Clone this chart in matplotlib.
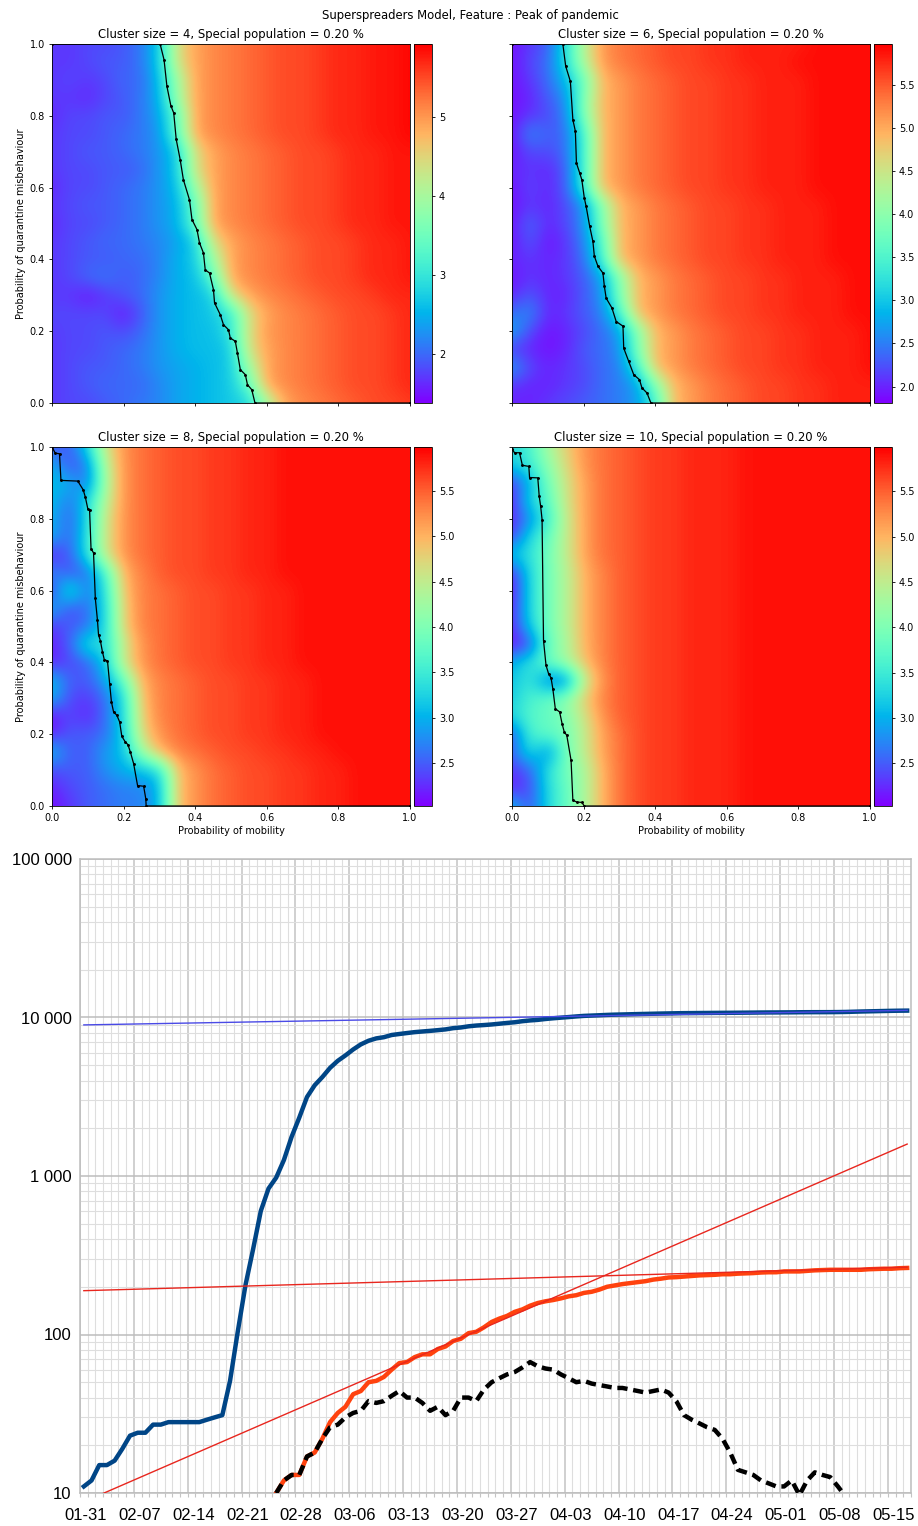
import numpy as np
import matplotlib
matplotlib.use("Agg")
import matplotlib.pyplot as plt
from matplotlib.transforms import ScaledTranslation
from matplotlib.ticker import FixedLocator, NullFormatter

# Peak of pandemic on a 21x21 grid: columns = mobility 0.00 .. 1.00, rows = misbehaviour 1.00 (top) .. 0.00
peak_c4 = [
    "1.7 1.7 1.8 1.8 1.9 2.1 2.7 4.4 4.9 5.1 5.2 5.3 5.4 5.5 5.5 5.6 5.7 5.7 5.8 5.8 5.9",
    "1.7 1.7 1.8 1.9 1.9 2.1 2.7 4.4 4.9 5.1 5.2 5.3 5.4 5.5 5.5 5.6 5.7 5.7 5.8 5.8 5.9",
    "1.7 1.8 1.7 1.8 2.0 2.0 2.6 3.9 4.9 5.1 5.2 5.3 5.4 5.5 5.5 5.6 5.7 5.7 5.8 5.8 5.9",
    "1.7 1.7 1.6 1.8 1.9 2.1 2.5 3.9 4.9 5.1 5.2 5.3 5.4 5.5 5.5 5.6 5.7 5.7 5.8 5.8 5.9",
    "1.6 1.8 1.8 1.9 1.9 2.1 2.4 3.4 4.9 5.1 5.2 5.3 5.4 5.5 5.5 5.6 5.7 5.7 5.8 5.8 5.9",
    "1.7 1.8 1.8 1.9 2.0 2.1 2.3 3.4 4.9 5.1 5.2 5.3 5.4 5.5 5.5 5.6 5.7 5.7 5.8 5.8 5.9",
    "1.7 1.8 1.9 1.9 2.0 2.1 2.3 2.7 4.4 4.9 5.1 5.2 5.3 5.4 5.5 5.5 5.6 5.7 5.7 5.8 5.8",
    "1.7 1.8 1.8 1.9 1.9 2.0 2.3 2.7 4.4 4.9 5.1 5.2 5.3 5.4 5.5 5.5 5.6 5.7 5.7 5.8 5.8",
    "1.6 1.8 1.8 1.9 2.0 2.1 2.3 2.6 3.9 4.9 5.1 5.2 5.3 5.4 5.5 5.5 5.6 5.7 5.7 5.8 5.8",
    "1.7 1.8 1.9 1.9 2.0 2.1 2.3 2.5 3.4 4.9 5.1 5.2 5.3 5.4 5.5 5.5 5.6 5.7 5.7 5.8 5.8",
    "1.6 1.8 1.8 1.9 2.0 2.1 2.3 2.5 3.4 4.9 5.1 5.2 5.3 5.4 5.5 5.5 5.6 5.7 5.7 5.8 5.8",
    "1.7 1.8 1.9 2.0 2.0 2.1 2.2 2.4 2.7 4.4 4.9 5.1 5.2 5.3 5.4 5.5 5.5 5.6 5.7 5.7 5.8",
    "1.7 1.8 1.9 1.9 2.0 2.0 2.2 2.5 2.7 3.9 4.9 5.1 5.2 5.3 5.4 5.5 5.5 5.6 5.7 5.7 5.8",
    "1.7 1.8 2.0 2.1 1.9 2.0 2.2 2.5 2.6 3.4 4.9 5.1 5.2 5.3 5.4 5.5 5.5 5.6 5.7 5.7 5.8",
    "1.7 1.7 1.5 1.7 1.9 2.0 2.3 2.5 2.6 2.7 4.4 4.9 5.1 5.2 5.3 5.4 5.5 5.5 5.6 5.7 5.7",
    "1.8 1.8 1.8 1.8 1.5 1.9 2.3 2.5 2.6 2.7 3.0 4.4 4.9 5.1 5.2 5.3 5.4 5.5 5.5 5.6 5.7",
    "1.7 1.8 1.8 1.9 1.8 2.0 2.3 2.5 2.6 2.6 3.0 4.4 5.0 5.1 5.2 5.3 5.4 5.5 5.5 5.6 5.7",
    "1.7 1.8 1.8 1.9 2.0 2.1 2.3 2.5 2.6 2.6 2.7 4.4 4.9 5.1 5.2 5.3 5.4 5.5 5.5 5.6 5.7",
    "1.7 1.8 1.9 1.9 2.0 2.1 2.3 2.4 2.5 2.6 2.7 3.9 4.9 5.1 5.2 5.3 5.4 5.5 5.5 5.6 5.7",
    "1.7 1.8 1.9 2.0 2.0 2.0 2.2 2.4 2.5 2.6 2.7 3.4 4.9 5.1 5.2 5.3 5.4 5.5 5.5 5.6 5.7",
    "1.7 1.8 1.8 1.9 2.0 2.1 2.2 2.4 2.5 2.6 2.7 2.8 3.9 4.9 5.1 5.2 5.3 5.4 5.5 5.5 5.6",
]
peak_c6 = [
    "1.9 2.1 2.3 3.2 4.3 5.1 5.3 5.4 5.5 5.6 5.6 5.7 5.7 5.8 5.8 5.8 5.8 5.9 5.9 5.9 5.9",
    "1.9 2.2 2.4 3.2 4.3 5.1 5.3 5.4 5.5 5.6 5.6 5.7 5.7 5.8 5.8 5.8 5.9 5.9 5.9 5.9 5.9",
    "1.9 2.1 2.4 2.9 3.7 4.9 5.1 5.3 5.4 5.5 5.6 5.6 5.7 5.7 5.8 5.8 5.8 5.9 5.9 5.9 5.9",
    "1.9 2.0 2.3 2.6 3.9 4.9 5.1 5.3 5.4 5.5 5.6 5.6 5.7 5.7 5.8 5.8 5.8 5.9 5.9 5.9 5.9",
    "1.9 2.1 2.2 2.5 3.9 4.9 5.1 5.3 5.4 5.5 5.6 5.6 5.7 5.7 5.8 5.8 5.8 5.9 5.9 5.9 5.9",
    "1.9 2.6 2.3 2.4 3.4 4.9 5.1 5.3 5.4 5.5 5.6 5.6 5.7 5.7 5.8 5.8 5.8 5.9 5.9 5.9 5.9",
    "1.9 2.2 2.2 2.4 3.4 4.9 5.1 5.3 5.4 5.5 5.6 5.6 5.7 5.7 5.8 5.8 5.8 5.9 5.9 5.9 5.9",
    "2.0 2.1 2.0 2.3 3.4 4.9 5.1 5.3 5.4 5.5 5.6 5.6 5.7 5.7 5.8 5.8 5.8 5.9 5.9 5.9 5.9",
    "1.9 2.2 2.0 2.3 3.4 4.9 5.1 5.3 5.4 5.5 5.6 5.6 5.7 5.7 5.8 5.8 5.8 5.9 5.9 5.9 5.9",
    "1.9 2.1 2.0 2.2 2.6 3.9 4.9 5.1 5.3 5.4 5.5 5.6 5.6 5.7 5.7 5.8 5.8 5.8 5.9 5.9 5.9",
    "1.9 2.4 2.0 2.2 2.6 3.9 4.9 5.1 5.3 5.4 5.5 5.6 5.6 5.7 5.7 5.8 5.8 5.8 5.9 5.9 5.9",
    "1.9 2.3 1.9 2.1 2.5 3.5 4.9 5.1 5.3 5.4 5.5 5.6 5.6 5.7 5.7 5.8 5.8 5.8 5.9 5.9 5.9",
    "2.0 2.1 2.0 2.1 2.4 3.4 4.9 5.1 5.3 5.4 5.5 5.6 5.6 5.7 5.7 5.8 5.8 5.8 5.9 5.9 5.9",
    "1.9 2.1 2.0 2.1 2.3 2.7 3.9 4.9 5.1 5.3 5.4 5.5 5.6 5.6 5.7 5.7 5.8 5.8 5.8 5.9 5.9",
    "2.0 2.3 2.0 2.0 2.3 2.6 3.9 4.9 5.1 5.3 5.4 5.5 5.6 5.6 5.7 5.7 5.8 5.8 5.8 5.9 5.9",
    "2.4 2.6 2.0 2.1 2.3 2.5 3.4 4.9 5.1 5.3 5.4 5.5 5.6 5.6 5.7 5.7 5.8 5.8 5.8 5.9 5.9",
    "2.8 2.2 1.9 2.0 2.2 2.4 2.7 3.9 4.9 5.1 5.3 5.4 5.5 5.6 5.6 5.7 5.7 5.8 5.8 5.8 5.9",
    "2.1 2.0 1.9 2.0 2.3 2.4 2.6 3.9 4.9 5.1 5.3 5.4 5.5 5.6 5.6 5.7 5.7 5.8 5.8 5.8 5.9",
    "2.7 2.2 2.0 2.1 2.2 2.4 2.5 3.4 4.9 5.1 5.3 5.4 5.5 5.6 5.6 5.7 5.7 5.8 5.8 5.8 5.9",
    "2.1 2.0 2.0 2.1 2.2 2.4 2.5 2.7 3.9 4.9 5.1 5.3 5.4 5.5 5.6 5.6 5.7 5.7 5.8 5.8 5.8",
    "2.0 2.0 2.1 2.2 2.3 2.4 2.5 2.7 3.4 4.9 5.1 5.3 5.4 5.5 5.6 5.6 5.7 5.7 5.8 5.8 5.8",
]
peak_c8 = [
    "2.5 2.5 3.3 4.6 5.2 5.4 5.5 5.6 5.6 5.7 5.7 5.8 5.8 5.9 5.9 5.9 5.9 5.9 5.9 5.9 5.9",
    "3.0 2.4 2.7 4.4 5.2 5.4 5.5 5.6 5.6 5.7 5.7 5.8 5.8 5.9 5.9 5.9 5.9 5.9 5.9 5.9 5.9",
    "3.1 3.0 2.6 4.3 5.2 5.4 5.5 5.6 5.6 5.7 5.7 5.8 5.8 5.9 5.9 5.9 5.9 5.9 5.9 5.9 5.9",
    "3.1 2.6 3.3 4.4 5.2 5.4 5.5 5.6 5.6 5.7 5.7 5.8 5.8 5.9 5.9 5.9 5.9 5.9 5.9 5.9 5.9",
    "3.0 2.5 3.3 4.6 5.2 5.4 5.5 5.6 5.6 5.7 5.7 5.8 5.8 5.9 5.9 5.9 5.9 5.9 5.9 5.9 5.9",
    "3.0 2.5 3.4 4.6 5.2 5.4 5.5 5.6 5.6 5.7 5.7 5.8 5.8 5.9 5.9 5.9 5.9 5.9 5.9 5.9 5.9",
    "2.2 2.5 3.4 4.6 5.2 5.4 5.5 5.6 5.6 5.7 5.7 5.8 5.8 5.9 5.9 5.9 5.9 5.9 5.9 5.9 5.9",
    "2.8 2.4 2.6 3.6 5.0 5.3 5.5 5.6 5.6 5.7 5.7 5.8 5.8 5.9 5.9 5.9 5.9 5.9 5.9 5.9 5.9",
    "2.3 3.6 2.6 3.4 4.9 5.3 5.4 5.5 5.6 5.6 5.7 5.7 5.8 5.8 5.9 5.9 5.9 5.9 5.9 5.9 5.9",
    "3.0 2.4 2.6 3.3 4.8 5.3 5.4 5.5 5.6 5.6 5.7 5.7 5.8 5.8 5.9 5.9 5.9 5.9 5.9 5.9 5.9",
    "2.3 2.5 2.6 3.3 4.8 5.3 5.4 5.5 5.6 5.6 5.7 5.7 5.8 5.8 5.9 5.9 5.9 5.9 5.9 5.9 5.9",
    "2.2 2.5 3.5 3.3 4.5 5.2 5.4 5.5 5.6 5.6 5.7 5.7 5.8 5.8 5.9 5.9 5.9 5.9 5.9 5.9 5.9",
    "2.2 2.4 2.5 3.2 4.6 5.2 5.4 5.5 5.6 5.6 5.7 5.7 5.8 5.8 5.9 5.9 5.9 5.9 5.9 5.9 5.9",
    "3.1 2.5 2.5 2.9 3.8 5.0 5.3 5.4 5.5 5.6 5.6 5.7 5.7 5.8 5.8 5.9 5.9 5.9 5.9 5.9 5.9",
    "3.0 2.4 2.3 2.6 3.3 4.9 5.3 5.4 5.5 5.6 5.6 5.7 5.7 5.8 5.8 5.9 5.9 5.9 5.9 5.9 5.9",
    "2.1 2.4 2.2 2.6 3.3 4.8 5.3 5.4 5.5 5.6 5.6 5.7 5.7 5.8 5.8 5.9 5.9 5.9 5.9 5.9 5.9",
    "2.2 2.5 2.5 2.6 3.2 4.7 5.2 5.4 5.5 5.6 5.6 5.7 5.7 5.8 5.8 5.9 5.9 5.9 5.9 5.9 5.9",
    "3.1 2.5 2.5 2.9 3.1 4.2 5.0 5.3 5.4 5.5 5.6 5.6 5.7 5.7 5.8 5.8 5.9 5.9 5.9 5.9 5.9",
    "2.4 2.5 2.5 2.8 3.0 3.1 3.3 4.9 5.2 5.4 5.5 5.6 5.6 5.7 5.7 5.8 5.8 5.9 5.9 5.9 5.9",
    "2.2 2.4 2.5 2.6 2.7 2.7 3.0 4.9 5.2 5.4 5.5 5.6 5.6 5.7 5.7 5.8 5.8 5.9 5.9 5.9 5.9",
    "2.1 2.3 2.5 2.6 2.7 2.7 3.0 4.9 5.2 5.4 5.5 5.6 5.6 5.7 5.7 5.8 5.8 5.9 5.9 5.9 5.9",
]
peak_c10 = [
    "3.3 3.6 4.3 4.8 5.2 5.4 5.5 5.6 5.7 5.7 5.8 5.8 5.8 5.9 5.9 5.9 5.9 5.9 5.9 5.9 5.9",
    "3.2 3.5 4.1 4.7 5.2 5.4 5.5 5.6 5.7 5.7 5.8 5.8 5.8 5.9 5.9 5.9 5.9 5.9 5.9 5.9 5.9",
    "2.3 3.0 3.9 4.6 5.1 5.4 5.5 5.6 5.7 5.7 5.8 5.8 5.8 5.9 5.9 5.9 5.9 5.9 5.9 5.9 5.9",
    "2.2 3.3 3.7 4.6 5.1 5.4 5.5 5.6 5.7 5.7 5.8 5.8 5.8 5.9 5.9 5.9 5.9 5.9 5.9 5.9 5.9",
    "2.2 2.8 3.5 4.5 5.1 5.4 5.5 5.6 5.7 5.7 5.8 5.8 5.8 5.9 5.9 5.9 5.9 5.9 5.9 5.9 5.9",
    "2.3 3.3 3.8 4.5 5.1 5.4 5.5 5.6 5.7 5.7 5.8 5.8 5.8 5.9 5.9 5.9 5.9 5.9 5.9 5.9 5.9",
    "3.2 3.4 3.9 4.5 5.1 5.4 5.5 5.6 5.7 5.7 5.8 5.8 5.8 5.9 5.9 5.9 5.9 5.9 5.9 5.9 5.9",
    "2.2 3.3 3.9 4.4 5.0 5.3 5.5 5.6 5.7 5.7 5.8 5.8 5.8 5.9 5.9 5.9 5.9 5.9 5.9 5.9 5.9",
    "2.1 3.3 3.9 4.4 5.0 5.3 5.5 5.6 5.7 5.7 5.8 5.8 5.8 5.9 5.9 5.9 5.9 5.9 5.9 5.9 5.9",
    "2.2 3.3 3.9 4.4 5.0 5.3 5.5 5.6 5.7 5.7 5.8 5.8 5.8 5.9 5.9 5.9 5.9 5.9 5.9 5.9 5.9",
    "2.2 3.2 3.9 4.4 5.0 5.3 5.5 5.6 5.7 5.7 5.8 5.8 5.8 5.9 5.9 5.9 5.9 5.9 5.9 5.9 5.9",
    "2.1 2.4 3.8 4.3 5.0 5.3 5.5 5.6 5.7 5.7 5.8 5.8 5.8 5.9 5.9 5.9 5.9 5.9 5.9 5.9 5.9",
    "3.0 3.4 3.9 4.3 4.9 5.3 5.5 5.6 5.7 5.7 5.8 5.8 5.8 5.9 5.9 5.9 5.9 5.9 5.9 5.9 5.9",
    "3.1 3.5 2.6 2.6 4.4 5.2 5.5 5.6 5.7 5.7 5.8 5.8 5.8 5.9 5.9 5.9 5.9 5.9 5.9 5.9 5.9",
    "3.2 3.6 3.8 4.1 4.8 5.3 5.5 5.6 5.7 5.7 5.8 5.8 5.8 5.9 5.9 5.9 5.9 5.9 5.9 5.9 5.9",
    "3.3 3.7 3.8 4.0 4.6 5.2 5.5 5.6 5.7 5.7 5.8 5.8 5.8 5.9 5.9 5.9 5.9 5.9 5.9 5.9 5.9",
    "2.4 3.6 3.8 3.9 4.5 5.1 5.4 5.6 5.7 5.7 5.8 5.8 5.8 5.9 5.9 5.9 5.9 5.9 5.9 5.9 5.9",
    "2.5 3.4 2.7 3.9 4.5 5.1 5.4 5.6 5.7 5.7 5.8 5.8 5.8 5.9 5.9 5.9 5.9 5.9 5.9 5.9 5.9",
    "2.3 2.5 3.4 3.9 4.3 5.0 5.4 5.6 5.7 5.7 5.8 5.8 5.8 5.9 5.9 5.9 5.9 5.9 5.9 5.9 5.9",
    "2.2 2.4 3.3 3.8 4.3 5.0 5.4 5.6 5.7 5.7 5.8 5.8 5.8 5.9 5.9 5.9 5.9 5.9 5.9 5.9 5.9",
    "3.1 2.4 3.3 3.8 4.3 5.0 5.4 5.6 5.7 5.7 5.8 5.8 5.8 5.9 5.9 5.9 5.9 5.9 5.9 5.9 5.9",
]

# threshold contour (mobility, misbehaviour) for each cluster size
edge_x4 = [0.0, 0.302, 0.313, 0.321, 0.332, 0.340, 0.347, 0.358, 0.367, 0.384, 0.391, 0.405, 0.412, 0.423, 0.428,
           0.440, 0.451, 0.454, 0.470, 0.479, 0.493, 0.498, 0.512, 0.518, 0.526, 0.540, 0.546, 0.558, 0.567, 1.0]
edge_y4 = [1.0, 1.0, 0.956, 0.882, 0.828, 0.808, 0.734, 0.678, 0.622, 0.566, 0.511, 0.483, 0.446, 0.418, 0.371,
           0.362, 0.316, 0.279, 0.246, 0.218, 0.204, 0.181, 0.172, 0.139, 0.093, 0.079, 0.051, 0.037, 0.0, 0.0]
edge_x6 = [0.0, 0.142, 0.150, 0.163, 0.170, 0.177, 0.180, 0.189, 0.195, 0.202, 0.207, 0.217, 0.226, 0.230, 0.240,
           0.254, 0.258, 0.263, 0.279, 0.291, 0.310, 0.312, 0.326, 0.340, 0.356, 0.363, 0.377, 0.388, 1.0]
edge_y6 = [1.0, 1.0, 0.938, 0.896, 0.789, 0.757, 0.668, 0.641, 0.622, 0.571, 0.548, 0.492, 0.450, 0.409, 0.381,
           0.362, 0.325, 0.292, 0.265, 0.227, 0.214, 0.153, 0.116, 0.079, 0.065, 0.042, 0.028, 0.0, 0.0]
edge_x8 = [0.0, 0.009, 0.021, 0.025, 0.072, 0.087, 0.093, 0.100, 0.105, 0.109, 0.116, 0.121, 0.127, 0.130, 0.135,
           0.141, 0.146, 0.155, 0.161, 0.166, 0.172, 0.181, 0.189, 0.195, 0.205, 0.212, 0.219, 0.228, 0.239, 0.256,
           0.262, 0.263, 1.0]
edge_y8 = [1.0, 0.983, 0.981, 0.907, 0.905, 0.881, 0.861, 0.828, 0.824, 0.717, 0.705, 0.578, 0.517, 0.476, 0.461,
           0.429, 0.408, 0.404, 0.341, 0.290, 0.262, 0.253, 0.234, 0.194, 0.178, 0.171, 0.150, 0.118, 0.057, 0.055,
           0.020, 0.0, 0.0]
edge_x10 = [0.0, 0.007, 0.021, 0.029, 0.047, 0.049, 0.072, 0.076, 0.080, 0.084, 0.088, 0.095, 0.102, 0.109, 0.114,
            0.121, 0.133, 0.140, 0.146, 0.153, 0.165, 0.170, 0.181, 0.195, 0.202, 1.0]
edge_y10 = [0.995, 0.984, 0.984, 0.949, 0.946, 0.915, 0.914, 0.863, 0.835, 0.798, 0.461, 0.392, 0.369, 0.357, 0.327,
            0.271, 0.262, 0.229, 0.206, 0.197, 0.127, 0.016, 0.011, 0.010, 0.0, 0.0]

cluster_sizes = [4, 6, 8, 10]
color_ranges = [(1.38, 5.93), (1.81, 5.97), (2.03, 5.98), (2.03, 5.99)]
cbar_ticks = [[2, 3, 4, 5],
              [2.0, 2.5, 3.0, 3.5, 4.0, 4.5, 5.0, 5.5],
              [2.5, 3.0, 3.5, 4.0, 4.5, 5.0, 5.5],
              [2.5, 3.0, 3.5, 4.0, 4.5, 5.0, 5.5]]

# daily series, day 0 = 01-31
cases = [11, 12, 15, 15, 16, 19, 23, 24, 24, 27,
         27, 28, 28, 28, 28, 28, 29, 30, 31, 51,
         104, 204, 346, 602, 833, 977, 1261, 1766, 2337, 3150,
         3736, 4212, 4812, 5328, 5766, 6284, 6767, 7134, 7382, 7513,
         7755, 7869, 7979, 8086, 8162, 8236, 8320, 8413, 8565, 8652,
         8799, 8897, 8961, 9037, 9137, 9241, 9332, 9478, 9583, 9661,
         9786, 9887, 9976, 10062, 10156, 10237, 10284, 10331, 10384, 10423,
         10450, 10480, 10512, 10537, 10564, 10591, 10613, 10635, 10653, 10661,
         10674, 10683, 10694, 10702, 10708, 10718, 10728, 10738, 10752, 10761,
         10765, 10774, 10780, 10793, 10801, 10804, 10806, 10810, 10822, 10840,
         10874, 10909, 10936, 10962, 10991, 11018, 11037, 11050]
deaths_start = 25
deaths = [10, 12, 13, 13, 17, 18, 22, 28, 32, 35,
          42, 44, 50, 51, 54, 60, 66, 67, 72, 75,
          75, 81, 84, 91, 94, 102, 104, 111, 120, 126,
          131, 139, 144, 152, 158, 162, 165, 169, 174, 177,
          183, 186, 192, 200, 204, 208, 211, 214, 217, 222,
          225, 229, 230, 232, 234, 236, 237, 238, 240, 240,
          242, 243, 244, 246, 247, 247, 250, 250, 250, 252,
          254, 255, 256, 256, 256, 256, 256, 258, 259, 260,
          260, 262, 263]
recent_start = 25
recent_deaths = [10, 12, 13, 13, 17, 18, 22, 26, 27, 30,
                 32, 33, 38, 37, 38, 41, 44, 40, 40, 37,
                 33, 35, 31, 33, 40, 40, 38, 45, 50, 53,
                 56, 58, 62, 67, 63, 61, 60, 56, 53, 50,
                 51, 49, 48, 47, 46, 46, 45, 44, 43, 44,
                 45, 43, 38, 31, 29, 27.5, 26, 25, 22, 18,
                 14, 13.5, 13, 12, 11.5, 11, 11, 12, 9.7, 12,
                 13.5, 13, 12.6, 11, 9.5]
# exponential trend lines (first and last day, value)
trend_days = [0, 107]
cases_trend = [8980, 11090]
deaths_trend = [189, 266]
early_deaths_trend = [8.8, 1590]

date_labels = ["01-31", "02-07", "02-14", "02-21", "02-28", "03-06", "03-13", "03-20",
               "03-27", "04-03", "04-10", "04-17", "04-24", "05-01", "05-08", "05-15"]
decade_labels = ["10", "100", "1 000", "10 000", "100 000"]

W, H = 918, 1526


def box(x0, y0, x1, y1):
    return [x0 / W, 1 - y1 / H, (x1 - x0) / W, (y1 - y0) / H]


fig = plt.figure(figsize=(W / 100, H / 100), dpi=100)

grids = [peak_c4, peak_c6, peak_c8, peak_c10]
edges = [(edge_x4, edge_y4), (edge_x6, edge_y6), (edge_x8, edge_y8), (edge_x10, edge_y10)]
panel_px = [(52, 44, 410, 403), (512, 44, 870, 403), (52, 447, 410, 806), (512, 447, 870, 806)]

for i in range(4):
    x0, y0, x1, y1 = panel_px[i]
    ax = fig.add_axes(box(x0, y0, x1, y1))
    cax = fig.add_axes(box(x1 + 4, y0, x1 + 22, y1))
    z = np.array([row.split() for row in grids[i]], dtype=float)
    vmin, vmax = color_ranges[i]
    im = ax.imshow(z, cmap="rainbow", vmin=vmin, vmax=vmax, interpolation="bicubic",
                   extent=(-0.025, 1.025, -0.025, 1.025), origin="upper", aspect="auto")
    ex, ey = edges[i]
    ax.plot(ex, ey, color="black", lw=0.9, marker=".", markersize=2.2, clip_on=True)
    ax.set_xlim(0, 1)
    ax.set_ylim(0, 1)
    ax.set_xticks([0, 0.2, 0.4, 0.6, 0.8, 1.0])
    ax.set_yticks([0, 0.2, 0.4, 0.6, 0.8, 1.0])
    ax.tick_params(labelsize=7, length=2.5, width=0.6, pad=2.5)
    for s in ax.spines.values():
        s.set_linewidth(0.6)
    ax.set_title(f"Cluster size = {cluster_sizes[i]}, Special population = 0.20 %", fontsize=8.4, pad=4)
    if i < 2:
        ax.set_xticklabels([])
    else:
        ax.set_xlabel("Probability of mobility", fontsize=7, labelpad=2)
    if i % 2 == 1:
        ax.set_yticklabels([])
    else:
        ax.set_ylabel("Probability of quarantine misbehaviour", fontsize=7, labelpad=3)

    cb = fig.colorbar(im, cax=cax)
    cb.set_ticks(cbar_ticks[i])
    cb.ax.tick_params(labelsize=7, length=2.5, width=0.6, pad=2.5)
    cb.outline.set_linewidth(0.6)

fig.text(470.5 / W, 1 - 15 / H, "Superspreaders Model, Feature : Peak of pandemic",
         ha="center", va="center", fontsize=8.4)

# ---- case / death curve on a log scale
ax = fig.add_axes(box(80, 859, 911, 1493))
ax.set_yscale("log")
ax.set_xlim(0, 108)
ax.set_ylim(10, 100000)

ax.yaxis.set_major_locator(FixedLocator([10, 100, 1000, 10000, 100000]))
ax.set_yticklabels(decade_labels)
ax.yaxis.set_minor_locator(FixedLocator([m * 10 ** e for e in range(1, 5) for m in range(2, 10)]))
ax.yaxis.set_minor_formatter(NullFormatter())
ax.xaxis.set_major_locator(FixedLocator(range(0, 108, 7)))
ax.set_xticklabels(date_labels)
ax.xaxis.set_minor_locator(FixedLocator(range(0, 109)))

ax.grid(True, which="minor", axis="both", color="#dedede", lw=0.8)
ax.grid(True, which="major", axis="x", color="#c8c8c8", lw=1.2)
ax.grid(True, which="major", axis="y", color="#bdbdbd", lw=1.1)
ax.set_axisbelow(True)
for s in ax.spines.values():
    s.set_color("#bdbdbd")
    s.set_linewidth(1.1)

ax.tick_params(axis="y", which="both", length=0, pad=6, labelsize=12)
ax.tick_params(axis="x", which="both", length=3, width=0.8, color="#c4c4c4", pad=8, labelsize=12)
offset = ScaledTranslation(0.058, 0, fig.dpi_scale_trans)
for lab in ax.get_xticklabels() + ax.get_yticklabels():
    lab.set_fontfamily("Liberation Sans")
for lab in ax.get_xticklabels():
    lab.set_transform(lab.get_transform() + offset)

days = np.arange(len(cases)) + 0.5
ax.plot(days, cases, color="#004586", lw=3.2, solid_joinstyle="round", zorder=3)
dd = np.arange(deaths_start, deaths_start + len(deaths)) + 0.5
ax.plot(dd, deaths, color="#ff420e", lw=3.2, solid_joinstyle="round", zorder=3)
rd = np.arange(recent_start, recent_start + len(recent_deaths)) + 0.5
ax.plot(rd, recent_deaths, color="black", lw=3.2, dashes=(2.3, 1.3), zorder=4)

td = np.array(trend_days) + 0.5
ax.plot(td, cases_trend, color="#4a4ae6", lw=1.0, zorder=5)
ax.plot(td, deaths_trend, color="#e8261e", lw=1.0, zorder=5)
ax.plot(td, early_deaths_trend, color="#e8261e", lw=1.0, zorder=5)

fig.savefig("out.png", dpi=100)
